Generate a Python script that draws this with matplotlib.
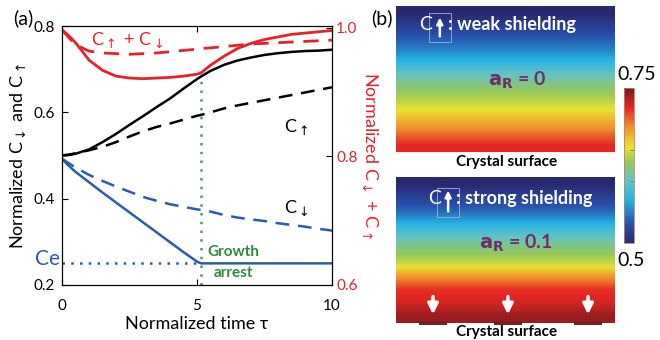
import numpy as np
import matplotlib
matplotlib.use('Agg')
import matplotlib.pyplot as plt
from matplotlib.colors import LinearSegmentedColormap
from matplotlib.patches import Rectangle

plt.rcParams['font.family'] = ['Lato', 'DejaVu Sans']
plt.rcParams['mathtext.fontset'] = 'dejavusans'

# ---- data ----
tau = [0, 0.25, 0.5, 1, 1.5, 2, 2.5, 3, 3.5, 4, 4.5, 5, 5.15,
       5.5, 6, 6.5, 7, 7.5, 8, 8.5, 9, 9.5, 10]
up_solid = [0.500, 0.501, 0.504, 0.514, 0.531, 0.550, 0.571, 0.591, 0.612, 0.632, 0.655, 0.677, 0.683,
            0.696, 0.710, 0.720, 0.727, 0.733, 0.737, 0.740, 0.742, 0.743, 0.745]
up_dash = [0.500, 0.502, 0.505, 0.512, 0.520, 0.531, 0.544, 0.556, 0.566, 0.574, 0.583, 0.592, 0.594,
           0.600, 0.609, 0.616, 0.622, 0.628, 0.634, 0.640, 0.646, 0.652, 0.658]
down_solid = [0.492, 0.476, 0.462, 0.438, 0.414, 0.391, 0.368, 0.345, 0.322, 0.299, 0.276, 0.254, 0.250,
              0.250, 0.250, 0.250, 0.250, 0.250, 0.250, 0.250, 0.250, 0.250, 0.250]
down_dash = [0.492, 0.482, 0.472, 0.455, 0.441, 0.428, 0.416, 0.404, 0.395, 0.387, 0.381, 0.375, 0.374,
             0.370, 0.362, 0.356, 0.352, 0.348, 0.343, 0.339, 0.335, 0.330, 0.326]
sum_solid = [0.997, 0.988, 0.977, 0.950, 0.934, 0.925, 0.922, 0.921, 0.922, 0.923, 0.925, 0.928, 0.930,
             0.942, 0.956, 0.968, 0.976, 0.982, 0.986, 0.990, 0.992, 0.994, 0.996]
sum_dash = [0.997, 0.985, 0.974, 0.964, 0.961, 0.960, 0.959, 0.960, 0.961, 0.963, 0.965, 0.967, 0.968,
            0.969, 0.971, 0.973, 0.975, 0.976, 0.977, 0.978, 0.979, 0.980, 0.981]
arrest_tau = 5.15
c_e = 0.25

# concentration profiles, top of box -> crystal surface
weak_profile = [0.500, 0.518, 0.535, 0.555, 0.583, 0.610, 0.630, 0.648, 0.670, 0.695, 0.718]
strong_profile = [0.500, 0.520, 0.538, 0.570, 0.600, 0.623, 0.645, 0.685, 0.715, 0.723, 0.740]
cmin, cmax = 0.5, 0.75

red = '#e8202a'
blue = '#2a5caa'
green = '#2e8b3c'
purple = '#6e2d6e'

fig = plt.figure(figsize=(6.6, 3.4), dpi=100)

# ---- panel (a) ----
ax = fig.add_axes([0.094, 0.162, 0.409, 0.7615])
ax.plot(tau, up_solid, color='black', lw=1.8)
ax.plot(tau, up_dash, color='black', lw=1.8, ls=(0, (5.5, 3.5)))
ax.plot(tau, down_solid, color=blue, lw=1.8)
ax.plot(tau, down_dash, color=blue, lw=1.8, ls=(0, (5.5, 3.5)))
ax.plot([arrest_tau, arrest_tau], [0.2, np.interp(arrest_tau, tau, up_solid)],
        color='#4aa05a', lw=1.8, ls=(0, (1, 2.5)))
ax.plot([0, arrest_tau], [c_e, c_e], color=blue, lw=1.8, ls=(0, (1, 2.5)))
ax.set_xlim(0, 10)
ax.set_ylim(0.2, 0.8)
ax.set_xticks([0, 5, 10])
ax.set_yticks([0.2, 0.4, 0.6, 0.8])
ax.tick_params(direction='in', length=4, labelsize=11, top=True)
ax.tick_params(axis='x', pad=10)
ax.tick_params(axis='y', pad=5)
ax.set_xlabel('Normalized time τ', fontsize=13, labelpad=2)
ax.set_ylabel(r'Normalized C$_{\downarrow}$ and C$_{\uparrow}$', fontsize=13, labelpad=4)

ax2 = ax.twinx()
ax2.plot(tau, sum_solid, color=red, lw=2)
ax2.plot(tau, sum_dash, color=red, lw=2, ls=(0, (5.5, 3.5)))
ax2.set_ylim(0.6, 1.003)
ax2.set_yticks([0.6, 0.8, 1.0])
ax2.tick_params(direction='in', length=4, labelsize=11, labelcolor=red, pad=3)
ax2.set_ylabel(r'Normalized C$_{\downarrow}$ + C$_{\uparrow}$', fontsize=13, color=red,
               rotation=270, labelpad=16)

ax.text(2.4, 0.767, r'C$_{\uparrow}$ + C$_{\downarrow}$', color=red, fontsize=13, ha='center', va='center')
ax.text(8.67, 0.566, r'C$_{\uparrow}$', fontsize=13, ha='center', va='center')
ax.text(8.67, 0.378, r'C$_{\downarrow}$', fontsize=13, ha='center', va='center')
ax.text(-0.55, c_e + 0.01, 'Ce', color=blue, fontsize=15, ha='center', va='center', clip_on=False)
ax.text(6.33, 0.277, 'Growth', color=green, fontsize=11, fontweight='bold', ha='center', va='center')
ax.text(6.33, 0.228, 'arrest', color=green, fontsize=11, fontweight='bold', ha='center', va='center')
fig.text(23 / 660, 1 - 18 / 340, '(a)', fontsize=14, ha='center', va='center')

# ---- panel (b) ----
cmap = LinearSegmentedColormap.from_list('mjet', [
    (0.0, '#28286e'), (0.12, '#2850aa'), (0.28, '#23b4e6'), (0.40, '#64c3c3'),
    (0.52, '#96c85a'), (0.62, '#ebe132'), (0.75, '#f0912d'), (0.87, '#e62823'),
    (1.0, '#78191e')])

def panel(rect, profile):
    a = fig.add_axes(rect)
    im = a.imshow(np.array(profile)[:, None], cmap=cmap, vmin=cmin, vmax=cmax,
                  aspect='auto', interpolation='bilinear', extent=(0, 1, 0, 1))
    a.set_xticks([])
    a.set_yticks([])
    for s in a.spines.values():
        s.set_visible(False)
    return a, im

w, h = 219 / 660, 146 / 340
axt, im = panel([396 / 660, 1 - 152 / 340, w, h], weak_profile)
axb, _ = panel([396 / 660, 1 - 323 / 340, w, h], strong_profile)

for a, word, cx, bx, by, yl in [
        (axt, ': weak shielding', 0.105, 0.150, 0.753, 0.870),
        (axb, ': strong shielding', 0.146, 0.188, 0.726, 0.856)]:
    a.text(cx, yl, 'C', color='white', fontsize=14, ha='left', va='center', transform=a.transAxes)
    a.add_patch(Rectangle((bx, by), 0.10, 0.20, transform=a.transAxes, fill=False,
                          ec='#9fb0d8', lw=0.6))
    a.annotate('', xy=(bx + 0.05, yl + 0.07), xytext=(bx + 0.05, by + 0.02), xycoords='axes fraction',
               arrowprops=dict(arrowstyle='-|>', color='white', lw=1.8, mutation_scale=9))
    a.text(bx + 0.088, yl, word, color='white', fontsize=13, fontweight='bold',
           ha='left', va='center', transform=a.transAxes)

axt.text(0.552, 0.49, r'$\mathbf{a_R}$ = 0', color=purple, fontsize=14, fontweight='bold',
         ha='center', va='center', transform=axt.transAxes)
axb.text(0.548, 0.548, r'$\mathbf{a_R}$ = 0.1', color=purple, fontsize=14, fontweight='bold',
         ha='center', va='center', transform=axb.transAxes)

for xf in [0.169, 0.511, 0.877]:
    axb.annotate('', xy=(xf, 0.04), xytext=(xf, 0.20), xycoords='axes fraction',
                 arrowprops=dict(arrowstyle='-|>', color='white', lw=2.5, mutation_scale=15))
    axb.add_patch(Rectangle((xf - 0.065, -0.015), 0.13, 0.03, transform=axb.transAxes,
                            color='#7a1e22', clip_on=False, lw=0))

fig.text(507 / 660, 1 - 162 / 340, 'Crystal surface', fontsize=11, fontweight='bold', ha='center', va='center')
fig.text(507 / 660, 1 - 332 / 340, 'Crystal surface', fontsize=11, fontweight='bold', ha='center', va='center')
fig.text(382 / 660, 1 - 18 / 340, '(b)', fontsize=14, ha='center', va='center')

cax = fig.add_axes([624 / 660, 1 - 243 / 340, 10 / 660, 155 / 340])
cb = fig.colorbar(im, cax=cax)
cb.set_ticks([0.55, 0.6, 0.65, 0.7])
cb.ax.set_yticklabels([])
cb.ax.tick_params(direction='in', length=3, color='#777777', width=0.6)
cb.outline.set_edgecolor('#c08070')
cb.outline.set_linewidth(0.6)
fig.text(637 / 660, 1 - 75 / 340, '0.75', fontsize=14, ha='center', va='center')
fig.text(631 / 660, 1 - 260 / 340, '0.5', fontsize=14, ha='center', va='center')

fig.savefig('out.png', dpi=100)
